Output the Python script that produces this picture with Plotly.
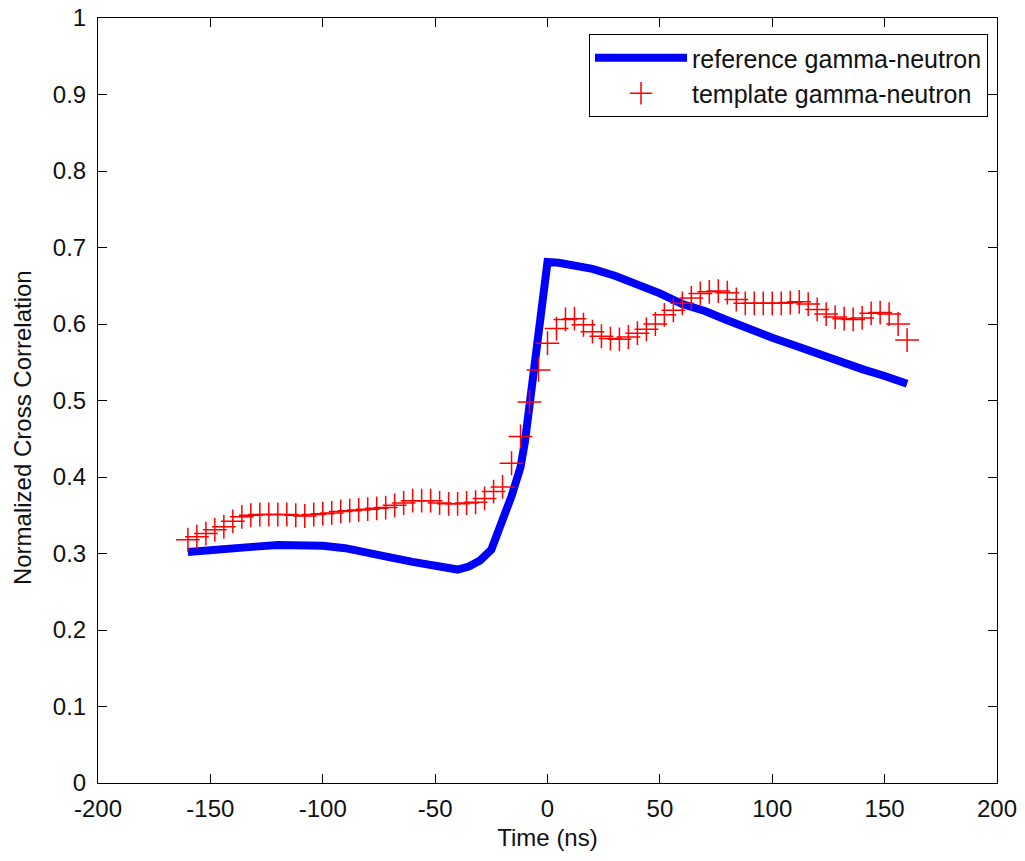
import plotly.graph_objects as go

# Reference gamma-neutron (thick blue line)
ref_time = [-160, -150, -140, -130, -120, -110, -100, -90, -80, -70, -60, -50, -45, -40,
            -35, -30, -25, -20, -18, -16, -14, -12, -10, -8, -6, -4, -2, -1, 0,
            5, 10, 20, 30, 40, 50, 60, 70, 80, 90, 100, 110, 120, 130, 140, 150, 160]
ref_corr = [0.302, 0.305, 0.307, 0.309, 0.311, 0.311, 0.310, 0.307, 0.302, 0.295, 0.289, 0.283, 0.280, 0.279,
            0.283, 0.291, 0.305, 0.342, 0.358, 0.375, 0.394, 0.413, 0.447, 0.490, 0.540, 0.592, 0.638, 0.660, 0.681,
            0.680, 0.677, 0.672, 0.663, 0.652, 0.640, 0.626, 0.617, 0.605, 0.593, 0.582, 0.572, 0.561, 0.551, 0.541, 0.532, 0.522]

# Template gamma-neutron (red + markers)
tmp_time = [-160, -156, -152, -148, -144, -140, -136, -132, -128, -124, -120, -116, -112, -108, -104, -100,
            -96, -92, -88, -84, -80, -76, -72, -68, -64, -60, -56, -52, -48, -44, -40, -36, -32, -28, -24, -20,
            -16, -12, -8, -4, 0, 4, 8, 12, 16, 20, 24, 28, 32, 36, 40, 44, 48, 52, 56, 60, 64, 68, 72, 76, 80,
            84, 88, 92, 96, 100, 104, 108, 112, 116, 120, 124, 128, 132, 136, 140, 144, 148, 152, 156, 160]
tmp_corr = [0.318, 0.322, 0.326, 0.331, 0.335, 0.342, 0.348, 0.350, 0.351, 0.351, 0.351, 0.351, 0.350, 0.349, 0.351, 0.352,
            0.353, 0.355, 0.356, 0.357, 0.358, 0.359, 0.360, 0.363, 0.366, 0.369, 0.369, 0.369, 0.366, 0.365, 0.365, 0.366, 0.367, 0.372, 0.381, 0.387,
            0.418, 0.453, 0.498, 0.540, 0.575, 0.594, 0.606, 0.607, 0.599, 0.590, 0.584, 0.581, 0.580, 0.583, 0.588, 0.593, 0.600, 0.612, 0.618, 0.627, 0.634, 0.640, 0.642, 0.643, 0.641,
            0.632, 0.627, 0.627, 0.627, 0.627, 0.627, 0.628, 0.629, 0.626, 0.619, 0.613, 0.609, 0.607, 0.606, 0.608, 0.614, 0.615, 0.613, 0.600, 0.579]

x_ticks = [-200, -150, -100, -50, 0, 50, 100, 150, 200]
y_ticks = [0, 0.1, 0.2, 0.3, 0.4, 0.5, 0.6, 0.7, 0.8, 0.9, 1]
y_tick_text = ["0", "0.1", "0.2", "0.3", "0.4", "0.5", "0.6", "0.7", "0.8", "0.9", "1"]

FONT = "Liberation Sans, Arial, sans-serif"
TXT = "#111111"

fig = go.Figure()
fig.add_trace(go.Scatter(
    x=ref_time, y=ref_corr, mode="lines", name="reference gamma-neutron",
    line=dict(color="#0000ff", width=8),
))
fig.add_trace(go.Scatter(
    x=tmp_time, y=tmp_corr, mode="markers", name="template gamma-neutron",
    marker=dict(symbol="cross-thin-open", size=17, color="#ff0000",
                line=dict(color="#ff0000", width=1.5)),
))

axis_common = dict(
    showline=True, linecolor="black", linewidth=1, mirror="ticks",
    ticks="inside", ticklen=9, tickwidth=1, tickcolor="black",
    showgrid=False, zeroline=False, automargin=False,
    tickfont=dict(family=FONT, size=24, color=TXT),
)

fig.update_xaxes(range=[-200, 200], tickvals=x_ticks, ticktext=[str(v) for v in x_ticks],
                 title=dict(text="Time (ns)", font=dict(family=FONT, size=24, color=TXT), standoff=8),
                 ticklabelstandoff=4,
                 **axis_common)
fig.update_yaxes(range=[0, 1], tickvals=y_ticks, ticktext=y_tick_text,
                 ticklabelstandoff=6,
                 **axis_common)

fig.add_annotation(
    text="Normalized Cross Correlation", textangle=-90,
    xref="paper", yref="paper", x=-0.0845, y=0.464,
    xanchor="center", yanchor="middle", showarrow=False,
    font=dict(family=FONT, size=24, color=TXT),
)

fig.update_layout(
    width=1025, height=861,
    margin=dict(l=98, r=28, t=18, b=78),
    paper_bgcolor="white", plot_bgcolor="white",
    font=dict(family=FONT, size=24, color=TXT),
    showlegend=True,
    legend=dict(x=0.990, y=0.979, xanchor="right", yanchor="top",
                bgcolor="white", bordercolor="black", borderwidth=1,
                font=dict(family=FONT, size=25, color=TXT),
                itemwidth=92, tracegroupgap=0),
)

fig.write_html("out.html")
